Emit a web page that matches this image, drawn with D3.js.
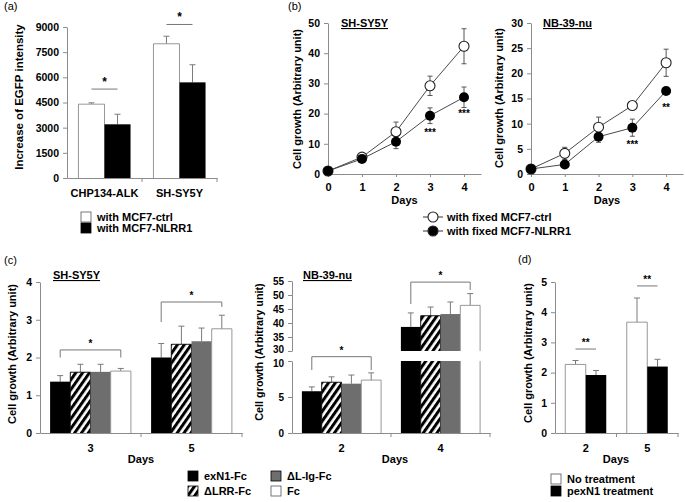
<!DOCTYPE html>
<html>
<head>
<meta charset="utf-8">
<script src="https://cdn.jsdelivr.net/npm/d3@7"></script>
<style>
  body { margin: 0; background: #fff; }
  svg { display: block; }
</style>
</head>
<body>
<svg id="fig" width="685" height="502"></svg>
<script>
// (a) EGFP intensity after co-culture
const aCells = ['CHP134-ALK', 'SH-SY5Y'];
const aCtrl = [4400, 8000];
const aCtrlErr = [80, 450];
const aNlrr = [3200, 5700];
const aNlrrErr = [600, 1050];
const aTicks = [0, 1500, 3000, 4500, 6000, 7500, 9000];
const aSigY = [5300, 9150];
const aLegend = ['with MCF7-ctrl', 'with MCF7-NLRR1'];

// (b) growth curves
const bDays = [0, 1, 2, 3, 4];
const bShCtrl = [1, 5.6, 14, 29.2, 42.3];
const bShCtrlErr = [0.3, 0.5, 3.2, 3.2, 5.8];
const bShNlrr = [1, 5, 10.7, 19.3, 25.4];
const bShNlrrErr = [0.3, 0.7, 2.3, 2.6, 3.4];
const bShStars = ['', '', '', '***', '***'];
const bNbCtrl = [1, 4.1, 9.3, 13.6, 22.1];
const bNbCtrlErr = [0.2, 1.2, 2.0, 0.4, 2.7];
const bNbNlrr = [1, 1.9, 7.4, 9.2, 16.5];
const bNbNlrrErr = [0.2, 0.3, 1.1, 1.7, 0.4];
const bNbStars = ['', '', '', '***', '**'];
const bShTicks = [0, 10, 20, 30, 40, 50];
const bNbTicks = [0, 5, 10, 15, 20, 25, 30];
const bLegend = ['with fixed MCF7-ctrl', 'with fixed MCF7-NLRR1'];

// (c) Fc proteins
const cSeries = ['exN1-Fc', 'ΔLRR-Fc', 'ΔL-Ig-Fc', 'Fc'];
const cShDays = ['3', '5'];
const cShExN1 = [1.36, 2.0];
const cShExN1Err = [0.16, 0.37];
const cShDLRR = [1.61, 2.35];
const cShDLRRErr = [0.21, 0.48];
const cShDLIg = [1.62, 2.43];
const cShDLIgErr = [0.2, 0.35];
const cShFc = [1.64, 2.76];
const cShFcErr = [0.07, 0.36];
const cShTicks = [0, 1, 2, 3, 4];
const cShBrackets = [[2.2, 2.0, 2.0], [3.47, 2.94, 3.34]];

const cNbDays = ['2', '4'];
const cNbExN1 = [5.8, 38.6];
const cNbExN1Err = [0.6, 5.0];
const cNbDLRR = [7.05, 42.6];
const cNbDLRRErr = [0.75, 3.1];
const cNbDLIg = [6.85, 43.2];
const cNbDLIgErr = [1.2, 4.3];
const cNbFc = [7.35, 46.3];
const cNbFcErr = [1.0, 4.2];
const cNbTicksLow = [0, 5, 10];
const cNbTicksHigh = [30, 35, 40, 45, 50, 55];
const cNbBrackets = [[10.6, 8.75, 8.75], [54.6, 46.8, 51.8]];

// (d) pexN1 treatment
const dDays = ['2', '5'];
const dNone = [2.27, 3.67];
const dNoneErr = [0.13, 0.8];
const dPexN1 = [1.92, 2.2];
const dPexN1Err = [0.15, 0.24];
const dTicks = [0, 1, 2, 3, 4, 5];
const dSigY = [2.78, 4.87];
const dLegend = ['No treatment', 'pexN1 treatment'];

const svg = d3.select('#fig');
const FONT = "'Liberation Sans', Arial, sans-serif";
const AXIS = '#8c8c8c';
const ERR = '#7a7a7a';
const fmt = d3.format('d');

const defs = svg.append('defs');
const hatch = defs.append('pattern').attr('id', 'hatch')
  .attr('patternUnits', 'userSpaceOnUse')
  .attr('width', 5.6).attr('height', 5.6)
  .attr('patternTransform', 'rotate(35)');
hatch.append('rect').attr('width', 5.6).attr('height', 5.6).attr('fill', '#fff');
hatch.append('rect').attr('width', 3).attr('height', 5.6).attr('fill', '#000');

const looks = {
  white: { fill: '#fff', outline: '#8c8c8c' },
  black: { fill: '#000', outline: null },
  hatch: { fill: 'url(#hatch)', outline: '#000' },
  gray: { fill: '#6e6e6e', outline: null },
};

function label(x, y, str, o = {}) {
  const t = svg.append('text').attr('x', x).attr('y', y).text(str)
    .attr('font-family', FONT)
    .attr('font-size', o.size || 11)
    .attr('font-weight', o.weight || 'bold')
    .attr('text-anchor', o.anchor || 'start')
    .attr('fill', '#000');
  if (o.rotate) t.attr('transform', `rotate(-90,${x},${y})`);
  if (o.underline) t.attr('text-decoration', 'underline');
  return t;
}

function styleAxis(g) {
  g.select('.domain').attr('stroke', AXIS);
  g.selectAll('.tick line').attr('stroke', AXIS);
  g.selectAll('.tick text').attr('font-family', FONT).attr('font-size', 10.5)
    .attr('font-weight', 'bold').attr('fill', '#000');
}

function yAxis(x, y, ticks) {
  const g = svg.append('g').attr('transform', `translate(${x},0)`)
    .call(d3.axisLeft(y).tickValues(ticks).tickFormat(fmt)
      .tickSize(4).tickSizeOuter(0).tickPadding(4));
  styleAxis(g);
  return g;
}

function bandAxis(xb, y0) {
  const g = svg.append('g').attr('transform', `translate(0,${y0})`)
    .call(d3.axisBottom(xb).tickSize(0).tickSizeOuter(0).tickPadding(11));
  styleAxis(g);
  g.selectAll('.tick text').attr('font-size', 11);
  const edges = xb.domain().slice(1).map(d => xb(d)).concat([xb.range()[1]]);
  g.selectAll('.edge').data(edges).enter().append('line')
    .attr('x1', d => d).attr('x2', d => d)
    .attr('y1', 0).attr('y2', 4).attr('stroke', AXIS);
}

// grouped bars; segs(v) splits a bar for a broken axis
function bars(xb, xs, names, values, errors, kinds, segs, yOf) {
  names.forEach((s, i) => {
    xb.domain().forEach((cat, j) => {
      const x = xb(cat) + xs(s);
      const w = xs.bandwidth();
      const v = values[i][j];
      const e = errors[i][j];
      const look = looks[kinds[i]];
      const xm = x + w / 2;
      svg.append('line').attr('x1', xm).attr('x2', xm)
        .attr('y1', yOf(v)).attr('y2', yOf(v + e)).attr('stroke', ERR);
      svg.append('line').attr('x1', xm - 3).attr('x2', xm + 3)
        .attr('y1', yOf(v + e)).attr('y2', yOf(v + e)).attr('stroke', ERR);
      segs(v).forEach(sg => {
        svg.append('rect').attr('x', x).attr('y', sg.top)
          .attr('width', w).attr('height', sg.bot - sg.top)
          .attr('fill', look.fill);
        if (look.outline) {
          const p = d3.path();
          p.moveTo(x, sg.bot);
          p.lineTo(x, sg.top);
          if (sg.cap) p.lineTo(x + w, sg.top); else p.moveTo(x + w, sg.top);
          p.lineTo(x + w, sg.bot);
          svg.append('path').attr('d', p.toString()).attr('fill', 'none')
            .attr('stroke', look.outline).attr('stroke-width', 0.9);
        }
      });
    });
  });
}

function bracket(x1, x2, yTop, yL, yR, star, size) {
  svg.append('path')
    .attr('d', `M${x1},${yL}V${yTop}H${x2}V${yR}`)
    .attr('fill', 'none').attr('stroke', '#777');
  label((x1 + x2) / 2, yTop - 3, star, { anchor: 'middle', size: size });
}

function boxLegend(x, y, kind, text) {
  svg.append('rect').attr('x', x).attr('y', y).attr('width', 10).attr('height', 10)
    .attr('fill', looks[kind].fill)
    .attr('stroke', kind === 'white' ? '#555' : '#000').attr('stroke-width', 0.8);
  label(x + 16, y + 9, text);
}

// ---------- (a) ----------
label(4, 10, '(a)', { weight: 'normal', size: 11 });
const aX = d3.scaleBand().domain(aCells).range([67, 217]);
const aS = d3.scaleBand().domain(['ctrl', 'nlrr']).range([0, aX.bandwidth()]).paddingOuter(0.44);
const aY = d3.scaleLinear().domain([0, 9000]).range([178, 27]);
bars(aX, aS, ['ctrl', 'nlrr'], [aCtrl, aNlrr], [aCtrlErr, aNlrrErr], ['white', 'black'],
  v => [{ top: aY(v), bot: aY(0), cap: true }], aY);
yAxis(67, aY, aTicks);
bandAxis(aX, 178);
aCells.forEach((c, j) => {
  const x1 = aX(c) + aS('ctrl') + aS.bandwidth() / 2;
  const x2 = aX(c) + aS('nlrr') + aS.bandwidth() / 2;
  bracket(x1, x2, aY(aSigY[j]), aY(aSigY[j]), aY(aSigY[j]), '*', 12);
});
label(23, 97, 'Increase of EGFP intensity', { rotate: true, anchor: 'middle', size: 11.5 });
aLegend.forEach((t, i) => boxLegend(81, 212 + i * 11, i ? 'black' : 'white', t));

// ---------- (b) ----------
label(288, 10, '(b)', { weight: 'normal', size: 11 });

function growth(x, y, ticks, ctrl, ctrlErr, nlrr, nlrrErr, stars, title, titleX) {
  const line = d3.line().x((d, i) => x(bDays[i])).y(d => y(d));
  yAxis(x(0), y, ticks);
  const g = svg.append('g').attr('transform', `translate(0,${y(0)})`)
    .call(d3.axisBottom(x).tickValues(bDays).tickFormat(fmt)
      .tickSize(3).tickSizeOuter(0).tickPadding(6));
  styleAxis(g);
  g.selectAll('.tick text').attr('font-size', 11);
  [ctrl, nlrr].forEach(s => svg.append('path').datum(s).attr('d', line)
    .attr('fill', 'none').attr('stroke', '#4a4a4a').attr('stroke-width', 1));
  [[ctrl, ctrlErr], [nlrr, nlrrErr]].forEach(([s, e]) => {
    s.forEach((v, i) => {
      const xm = x(bDays[i]);
      svg.append('path')
        .attr('d', `M${xm},${y(v - e[i])}V${y(v + e[i])}M${xm - 2.5},${y(v + e[i])}H${xm + 2.5}M${xm - 2.5},${y(v - e[i])}H${xm + 2.5}`)
        .attr('stroke', '#555').attr('fill', 'none');
    });
  });
  svg.selectAll(null).data(ctrl).enter().append('circle')
    .attr('cx', (d, i) => x(bDays[i])).attr('cy', d => y(d)).attr('r', 5)
    .attr('fill', '#fff').attr('stroke', '#222').attr('stroke-width', 1.1);
  svg.selectAll(null).data(nlrr).enter().append('circle')
    .attr('cx', (d, i) => x(bDays[i])).attr('cy', d => y(d)).attr('r', 5)
    .attr('fill', '#000');
  stars.forEach((s, i) => {
    if (s) label(x(bDays[i]), y(nlrr[i]) + 20, s, { anchor: 'middle', size: 10 });
  });
  label(titleX, 27, title, { underline: true });
  const [r0, r1] = x.range();
  label((r0 + r1) / 2, 204, 'Days', { anchor: 'middle' });
}

const bShX = d3.scaleLinear().domain([0, 4.5]).range([328, 481]);
const bShY = d3.scaleLinear().domain([0, 50]).range([174, 23]);
growth(bShX, bShY, bShTicks, bShCtrl, bShCtrlErr, bShNlrr, bShNlrrErr, bShStars, 'SH-SY5Y', 341);
label(301, 99, 'Cell growth (Arbitrary unit)', { rotate: true, anchor: 'middle' });

const bNbX = d3.scaleLinear().domain([0, 4.5]).range([531, 683]);
const bNbY = d3.scaleLinear().domain([0, 30]).range([174, 23]);
growth(bNbX, bNbY, bNbTicks, bNbCtrl, bNbCtrlErr, bNbNlrr, bNbNlrrErr, bNbStars, 'NB-39-nu', 543);
label(503, 98, 'Cell growth (Arbitrary unit)', { rotate: true, anchor: 'middle' });

bLegend.forEach((t, i) => {
  const yy = 217 + i * 14;
  svg.append('line').attr('x1', 423).attr('x2', 443).attr('y1', yy).attr('y2', yy).attr('stroke', '#333');
  svg.append('circle').attr('cx', 433).attr('cy', yy).attr('r', 5)
    .attr('fill', i ? '#000' : '#fff').attr('stroke', '#222').attr('stroke-width', 1.1);
  label(447, yy + 4, t);
});

// ---------- (c) ----------
label(4, 264, '(c)', { weight: 'normal', size: 11 });
const cKinds = ['black', 'hatch', 'gray', 'white'];

const cShX = d3.scaleBand().domain(cShDays).range([40, 242]);
const cShS = d3.scaleBand().domain(cSeries).range([0, cShX.bandwidth()]).paddingOuter(0.5);
const cShY = d3.scaleLinear().domain([0, 4]).range([433, 282]);
bars(cShX, cShS, cSeries, [cShExN1, cShDLRR, cShDLIg, cShFc],
  [cShExN1Err, cShDLRRErr, cShDLIgErr, cShFcErr], cKinds,
  v => [{ top: cShY(v), bot: cShY(0), cap: true }], cShY);
yAxis(40, cShY, cShTicks);
bandAxis(cShX, 433);
cShDays.forEach((d, j) => {
  const [t, l, r] = cShBrackets[j];
  const x1 = cShX(d) + cShS(cSeries[0]) + cShS.bandwidth() / 2;
  const x2 = cShX(d) + cShS(cSeries[3]) + cShS.bandwidth() / 2;
  bracket(x1, x2, cShY(t), cShY(l), cShY(r), '*', 10);
});
label(53, 279, 'SH-SY5Y', { underline: true });
label(16, 354, 'Cell growth (Arbitrary unit)', { rotate: true, anchor: 'middle' });
label(141, 463, 'Days', { anchor: 'middle' });

const cNbX = d3.scaleBand().domain(cNbDays).range([292, 490]);
const cNbS = d3.scaleBand().domain(cSeries).range([0, cNbX.bandwidth()]).paddingOuter(0.5);
const yLow = d3.scaleLinear().domain([0, 10]).range([433, 361]);
const yHigh = d3.scaleLinear().domain([30, 55]).range([351, 281]);
const nbY = v => (v < 20 ? yLow(v) : yHigh(v));
const nbSegs = v => (v <= 10
  ? [{ top: yLow(v), bot: yLow(0), cap: true }]
  : [{ top: yLow(10), bot: yLow(0), cap: false }, { top: yHigh(v), bot: yHigh(30), cap: true }]);
bars(cNbX, cNbS, cSeries, [cNbExN1, cNbDLRR, cNbDLIg, cNbFc],
  [cNbExN1Err, cNbDLRRErr, cNbDLIgErr, cNbFcErr], cKinds, nbSegs, nbY);
// the two tick labels either side of the break sit very close; nudge them apart a little
yAxis(292, yLow, cNbTicksLow).selectAll('.tick text').attr('font-size', 10)
  .attr('dy', d => (d === 10 ? '0.5em' : '0.32em'));
yAxis(292, yHigh, cNbTicksHigh).selectAll('.tick text').attr('font-size', 10)
  .attr('dy', d => (d === 30 ? '0.15em' : '0.32em'));
bandAxis(cNbX, 433);
cNbDays.forEach((d, j) => {
  const [t, l, r] = cNbBrackets[j];
  const x1 = cNbX(d) + cNbS(cSeries[0]) + cNbS.bandwidth() / 2;
  const x2 = cNbX(d) + cNbS(cSeries[3]) + cNbS.bandwidth() / 2;
  bracket(x1, x2, nbY(t), nbY(l), nbY(r), '*', 10);
});
label(303, 279, 'NB-39-nu', { underline: true });
label(263, 352, 'Cell growth (Arbitrary unit)', { rotate: true, anchor: 'middle', size: 10.8 });
label(395, 463, 'Days', { anchor: 'middle' });

cSeries.forEach((s, i) => {
  const col = Math.floor(i / 2);
  boxLegend(col ? 271 : 188, 471 + (i % 2) * 15, cKinds[i], s);
});

// ---------- (d) ----------
label(518, 263, '(d)', { weight: 'normal', size: 11 });
const dX = d3.scaleBand().domain(dDays).range([555, 678]);
const dS = d3.scaleBand().domain(['none', 'pex']).range([0, dX.bandwidth()]).paddingOuter(0.5);
const dY = d3.scaleLinear().domain([0, 5]).range([433, 282]);
bars(dX, dS, ['none', 'pex'], [dNone, dPexN1], [dNoneErr, dPexN1Err], ['white', 'black'],
  v => [{ top: dY(v), bot: dY(0), cap: true }], dY);
yAxis(555, dY, dTicks);
bandAxis(dX, 433);
dDays.forEach((d, j) => {
  const x1 = dX(d) + dS('none') + dS.bandwidth() / 2;
  const x2 = dX(d) + dS('pex') + dS.bandwidth() / 2;
  bracket(x1, x2, dY(dSigY[j]), dY(dSigY[j]), dY(dSigY[j]), '**', 10);
});
label(532, 353, 'Cell growth (Arbitrary unit)', { rotate: true, anchor: 'middle' });
label(616, 463, 'Days', { anchor: 'middle' });
dLegend.forEach((t, i) => boxLegend(551, 474 + i * 12, i ? 'black' : 'white', t));
</script>
</body>
</html>
